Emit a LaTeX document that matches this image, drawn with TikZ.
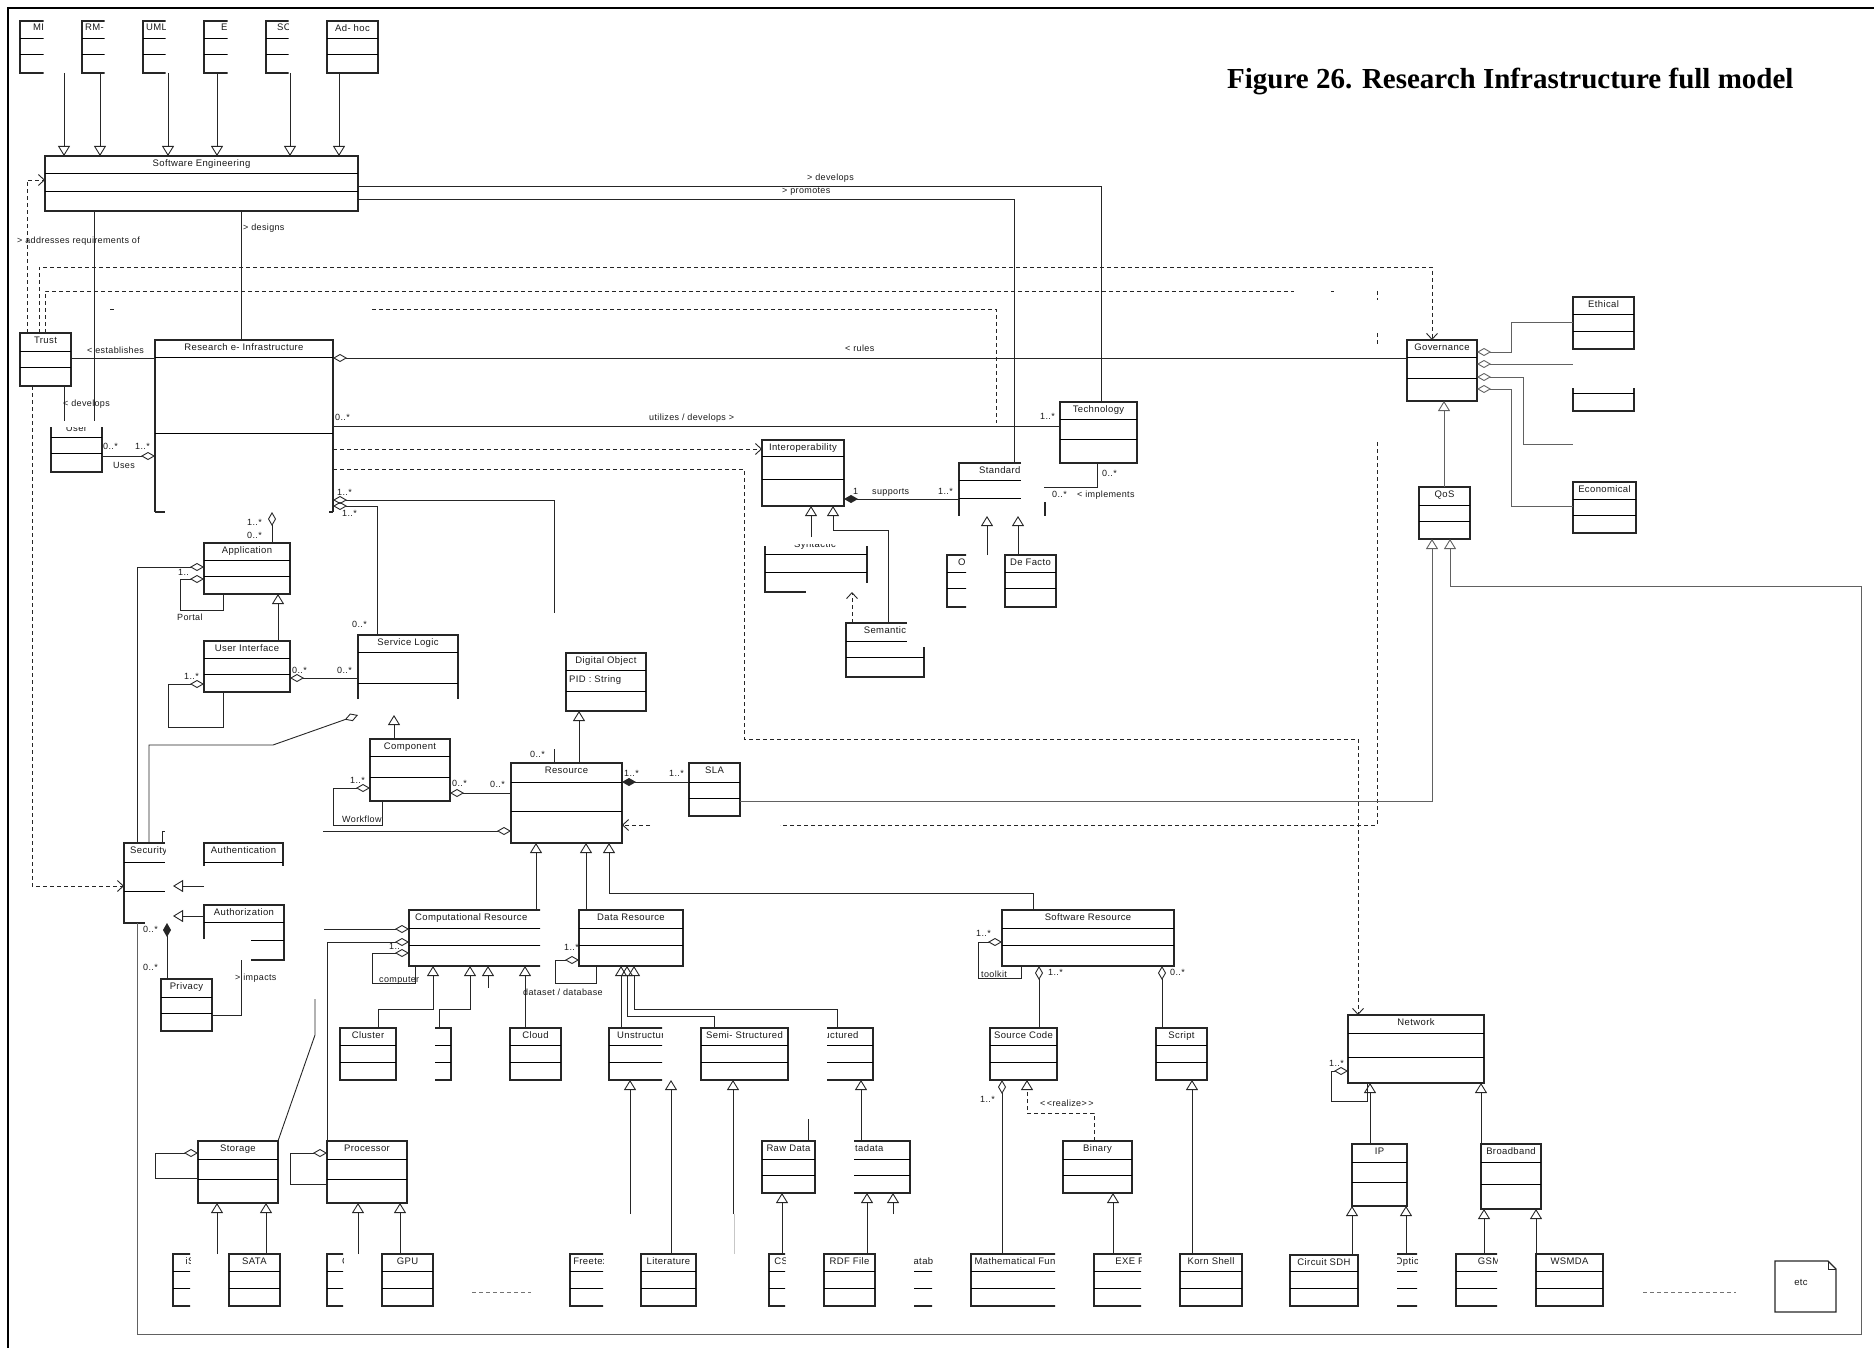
\documentclass[tikz,border=0pt]{standalone}
\usepackage{fontspec}
\newfontfamily\umlfont{Liberation Sans}[LetterSpace=4]
\newfontfamily\figfont{Liberation Serif}
\usetikzlibrary{arrows.meta}

\tikzset{
  ln/.style={draw=black!85, line width=0.9pt},
  gl/.style={draw=black!62},
  bl/.style={draw=black!85, line width=1.1pt},
  boxst/.style={draw=black!85, line width=1.1pt, inner sep=0pt, outer sep=0pt, rectangle},
  hidst/.style={inner sep=0pt, outer sep=0pt, rectangle},
  sepst/.style={draw=black, line width=0.9pt},
  ttl/.style={font=\umlfont\fontsize{9.5}{11}\selectfont, inner sep=0pt, anchor=base, text=black!90},
  lbl/.style={font=\umlfont\fontsize{9}{11}\selectfont, inner sep=0pt, anchor=base west, text=black!90},
  gen/.style={ln, -{Triangle[open, length=10pt, width=12pt]}},
  agg/.style={ln, {Diamond[open, length=14pt, width=8pt]}-},
  aggend/.style={ln, -{Diamond[open, length=14pt, width=8pt]}},
  comp/.style={ln, {Diamond[length=14pt, width=8pt]}-},
  dsh/.style={ln, dash pattern=on 4pt off 3pt},
  dep/.style={dsh, -{Straight Barb[length=6pt, width=11pt]}},
  real/.style={dsh, -{Triangle[open, length=10pt, width=12pt]}},
}

% class box: name, x1, y1, x2, y2, first separator, second separator
\newcommand{\ubox}[7]{%
  \pgfmathsetmacro{\ubw}{#4-#2}\pgfmathsetmacro{\ubh}{#5-#3}%
  \node[boxst, minimum width=\ubw pt, minimum height=\ubh pt] (#1) at ({(#2+#4)/2},{(#3+#5)/2}) {};
  \draw[sepst] (#2,#6) -- (#4,#6) (#2,#7) -- (#4,#7);
}
% invisible frame of a class whose outline is drawn piece by piece
\newcommand{\uhid}[5]{%
  \pgfmathsetmacro{\ubw}{#4-#2}\pgfmathsetmacro{\ubh}{#5-#3}%
  \node[hidst, minimum width=\ubw pt, minimum height=\ubh pt] (#1) at ({(#2+#4)/2},{(#3+#5)/2}) {};
}
\newcommand{\utitle}[2]{\node[ttl] (#1-t) at ([yshift=-10.5pt]#1.north) {#2};}
\newcommand{\lab}[4]{\node[lbl] (#1) at (#2,#3) {#4};}

\begin{document}
\begin{tikzpicture}[x=1pt, y=-1pt]
\useasboundingbox (0,0) rectangle (1874,1348);

% frame and caption
\draw[line width=2.2pt, black] (8,1348) -- (8,8) -- (1874,8);
\node[font=\figfont\bfseries\fontsize{29}{33}\selectfont, anchor=base west, inner sep=0pt] (fig) at (1227,89) {Figure 26. Research Infrastructure full model};

% ---------- methodology classes ----------
\begin{scope}\clip (17,18) rectangle (43.5,76);
  \ubox{mi}{20}{21}{71}{73}{38}{54}
  \node[ttl, anchor=base west] (mi-t) at (33,31) {MI};
\end{scope}
\begin{scope}\clip (79,18) rectangle (104.5,76);
  \ubox{rm}{82}{21}{133}{73}{38}{54}
  \node[ttl, anchor=base west] (rm-t) at (85,31) {RM-};
\end{scope}
\begin{scope}\clip (140,18) rectangle (165.5,76);
  \ubox{uml}{143}{21}{194}{73}{38}{54}
  \node[ttl, anchor=base west] (uml-t) at (146,31) {UML};
\end{scope}
\begin{scope}\clip (201,18) rectangle (227.5,76);
  \ubox{eb}{204}{21}{255}{73}{38}{54}
  \node[ttl, anchor=base west] (eb-t) at (221,31) {E};
\end{scope}
\begin{scope}\clip (263,18) rectangle (288.5,76);
  \ubox{sc}{266}{21}{317}{73}{38}{54}
  \node[ttl, anchor=base west] (sc-t) at (277,31) {SC};
\end{scope}
\ubox{adhoc}{327}{21}{378}{73}{38}{54} \utitle{adhoc}{Ad- hoc}

\ubox{se}{45}{156}{358}{211}{173}{191} \utitle{se}{Software Engineering}
\ubox{trust}{20}{333}{71}{386}{351}{367} \utitle{trust}{Trust}
\begin{scope}\clip (48,427) rectangle (105,475);
  \ubox{user}{51}{421}{102}{472}{437}{453} \utitle{user}{User}
\end{scope}

% Research e-Infrastructure
\uhid{ri}{155}{340}{333}{512}
\draw[bl] (155,512) -- (155,340) -- (333,340) -- (333,512);
\draw[bl] (155,512) -- (165,512) (329,512) -- (333,512);
\draw[sepst] (155,357) -- (333,357) (155,433) -- (333,433);
\utitle{ri}{Research e- Infrastructure}

\ubox{tech}{1060}{402}{1137}{463}{419}{439} \utitle{tech}{Technology}
\ubox{interop}{762}{440}{844}{506}{456}{479} \utitle{interop}{Interoperability}

% Standard
\uhid{std}{959}{463}{1045}{516}
\draw[bl] (1021,463) -- (959,463) -- (959,516);
\draw[bl] (1045,502) -- (1045,516);
\draw[sepst] (959,480) -- (1021,480) (959,498) -- (1021,498);
\node[ttl, anchor=base west] (std-t) at (979,473.5) {Standard};
\begin{scope}\clip (944,552) rectangle (966,610);
  \ubox{ostd}{947}{555}{998}{607}{572}{588}
  \node[ttl, anchor=base west] (ostd-t) at (958,565.5) {O};
\end{scope}
\ubox{defacto}{1005}{555}{1056}{607}{572}{588} \utitle{defacto}{De Facto}

% Syntactic / Semantic
\uhid{syn}{765}{537}{867}{592}
\draw[bl] (765,546) -- (765,592) -- (806,592);
\draw[bl] (867,546) -- (867,583);
\draw[sepst] (765,554) -- (867,554) (765,572) -- (867,572);
\begin{scope}\clip (760,544) rectangle (870,552);
  \node[ttl] (syn-t) at (815,547.5) {Syntactic};
\end{scope}
\uhid{sem}{846}{623}{924}{677}
\draw[bl] (907,623) -- (846,623) -- (846,677) -- (924,677) -- (924,647);
\draw[sepst] (846,641) -- (907,641) (846,657) -- (924,657);
\utitle{sem}{Semantic}

\ubox{dobj}{566}{653}{646}{711}{670}{691} \utitle{dobj}{Digital Object}
\node[ttl, anchor=base west] (pid) at (569,682) {PID : String};
\ubox{res}{511}{763}{622}{843}{782}{811} \utitle{res}{Resource}
\ubox{sla}{689}{763}{740}{816}{782}{798} \utitle{sla}{SLA}
\ubox{qos}{1419}{487}{1470}{539}{505}{521} \utitle{qos}{QoS}
\ubox{gov}{1407}{340}{1477}{401}{357}{378} \utitle{gov}{Governance}
\ubox{ethical}{1573}{297}{1634}{349}{314}{331} \utitle{ethical}{Ethical}
\uhid{legal}{1573}{388}{1634}{411}
\draw[bl] (1573,388) -- (1573,411) -- (1634,411) -- (1634,388);
\draw[sepst] (1573,393) -- (1634,393);
\ubox{econ}{1573}{482}{1636}{533}{499}{515} \utitle{econ}{Economical}

\ubox{app}{204}{543}{290}{594}{560}{576} \utitle{app}{Application}
\ubox{ui}{204}{641}{290}{692}{658}{674} \utitle{ui}{User Interface}
\uhid{sl}{358}{635}{458}{715}
\draw[bl] (358,699) -- (358,635) -- (458,635) -- (458,699);
\draw[sepst] (358,652) -- (458,652) (358,683) -- (458,683);
\utitle{sl}{Service Logic}
\ubox{cmp}{370}{739}{450}{801}{756}{777} \utitle{cmp}{Component}

% Security and its parts
\uhid{sec}{124}{843}{173}{923}
\draw[bl] (165,843) -- (124,843) -- (124,923) -- (145,923);
\draw[sepst] (124,862) -- (165,862) (124,891) -- (165,891);
\begin{scope}\clip (120,840) rectangle (165,860);
  \node[ttl, anchor=base west] (sec-t) at (130,853.5) {Security};
\end{scope}
\uhid{auth}{204}{843}{283}{900}
\draw[bl] (204,866) -- (204,843) -- (283,843) -- (283,866);
\draw[sepst] (204,862) -- (283,862);
\utitle{auth}{Authentication}
\uhid{authz}{204}{905}{284}{960}
\draw[bl] (204,939) -- (204,905) -- (284,905) -- (284,960) -- (251,960);
\draw[sepst] (204,922) -- (284,922) (251,940) -- (284,940);
\utitle{authz}{Authorization}
\ubox{priv}{161}{979}{212}{1031}{997}{1013} \utitle{priv}{Privacy}

% Computational resources
\begin{scope}\clip (405,905) rectangle (540,970);
  \ubox{cr}{409}{910}{570}{966}{928}{945}
  \node[ttl, anchor=base west] (cr-t) at (415,920.5) {Computational Resource};
\end{scope}
\ubox{cluster}{340}{1028}{396}{1080}{1045}{1062} \utitle{cluster}{Cluster}
\begin{scope}\clip (435,1024) rectangle (455,1084);
  \ubox{grid}{400}{1028}{451}{1080}{1045}{1062}
\end{scope}
\ubox{cloud}{510}{1028}{561}{1080}{1045}{1062} \utitle{cloud}{Cloud}
\ubox{stor}{198}{1141}{278}{1203}{1159}{1179} \utitle{stor}{Storage}
\ubox{proc}{327}{1141}{407}{1203}{1159}{1179} \utitle{proc}{Processor}

% Data resources
\ubox{dr}{579}{910}{683}{966}{928}{945} \utitle{dr}{Data Resource}
\begin{scope}\clip (605,1024) rectangle (662,1084);
  \ubox{unst}{609}{1028}{690}{1080}{1045}{1062}
  \node[ttl, anchor=base west] (unst-t) at (617,1038.5) {Unstructured};
\end{scope}
\ubox{semi}{701}{1028}{788}{1080}{1045}{1062} \utitle{semi}{Semi- Structured}
\begin{scope}\clip (827,1024) rectangle (877,1084);
  \ubox{struct}{790}{1028}{873}{1080}{1045}{1062}
  \node[ttl, anchor=base west] (struct-t) at (811,1038.5) {Structured};
\end{scope}
\ubox{raw}{762}{1141}{815}{1193}{1159}{1175} \utitle{raw}{Raw Data}
\begin{scope}\clip (854,1137) rectangle (914,1197);
  \ubox{meta}{820}{1141}{910}{1193}{1159}{1175}
  \node[ttl, anchor=base west] (meta-t) at (841,1151.5) {Metadata};
\end{scope}

% Software resources
\ubox{swr}{1002}{910}{1174}{966}{928}{945} \utitle{swr}{Software Resource}
\ubox{src}{990}{1028}{1057}{1080}{1045}{1062} \utitle{src}{Source Code}
\ubox{script}{1156}{1028}{1207}{1080}{1045}{1062} \utitle{script}{Script}
\ubox{bin}{1063}{1141}{1132}{1193}{1159}{1175} \utitle{bin}{Binary}

% Network
\ubox{net}{1348}{1015}{1484}{1083}{1033}{1057} \utitle{net}{Network}
\ubox{ip}{1352}{1144}{1407}{1206}{1162}{1182} \utitle{ip}{IP}
\ubox{bb}{1481}{1144}{1541}{1209}{1162}{1184} \utitle{bb}{Broadband}

% ---------- leaf classes ----------
\begin{scope}\clip (170,1250) rectangle (190,1310);
  \ubox{iscsi}{173}{1254}{224}{1306}{1271}{1288} \utitle{iscsi}{iSCSI}
\end{scope}
\ubox{sata}{229}{1254}{280}{1306}{1271}{1288} \utitle{sata}{SATA}
\begin{scope}\clip (324,1250) rectangle (343,1310);
  \ubox{cpu}{327}{1254}{378}{1306}{1271}{1288} \utitle{cpu}{CPU}
\end{scope}
\ubox{gpu}{382}{1254}{433}{1306}{1271}{1288} \utitle{gpu}{GPU}
\begin{scope}\clip (567,1250) rectangle (603,1310);
  \ubox{ftext}{570}{1254}{614}{1306}{1271}{1288} \utitle{ftext}{Freetext}
\end{scope}
\ubox{lit}{641}{1254}{696}{1306}{1271}{1288} \utitle{lit}{Literature}
\begin{scope}\clip (766,1250) rectangle (785,1310);
  \ubox{csv}{769}{1254}{800}{1306}{1271}{1288} \utitle{csv}{CSV}
\end{scope}
\ubox{rdf}{824}{1254}{875}{1306}{1271}{1288} \utitle{rdf}{RDF File}
\begin{scope}\clip (914,1257) rectangle (932,1310);
  \ubox{db}{903}{1254}{953}{1306}{1271}{1288} \utitle{db}{Database}
\end{scope}
\begin{scope}\clip (968,1250) rectangle (1055,1310);
  \ubox{mathfn}{971}{1254}{1081}{1306}{1271}{1288} \utitle{mathfn}{Mathematical Function}
\end{scope}
\begin{scope}\clip (1091,1250) rectangle (1141,1310);
  \ubox{exe}{1094}{1254}{1176}{1306}{1271}{1288} \utitle{exe}{EXE File}
\end{scope}
\ubox{korn}{1180}{1254}{1242}{1306}{1271}{1288} \utitle{korn}{Korn Shell}
\ubox{sdh}{1290}{1255}{1358}{1306}{1271}{1288} \utitle{sdh}{Circuit SDH}
\begin{scope}\clip (1397,1250) rectangle (1417,1310);
  \ubox{optic}{1380}{1254}{1440}{1306}{1271}{1288}
  \node[ttl, anchor=base west] (optic-t) at (1395,1264.5) {Optical};
\end{scope}
\begin{scope}\clip (1453,1250) rectangle (1497,1310);
  \ubox{gsm}{1456}{1254}{1522}{1306}{1271}{1288} \utitle{gsm}{GSM}
\end{scope}
\ubox{wsmda}{1536}{1254}{1603}{1306}{1271}{1288} \utitle{wsmda}{WSMDA}

% note
\node[hidst, minimum width=61pt, minimum height=51pt] (etc) at (1805.5,1286.5) {};
\draw[bl] (etc.north west) -- ([xshift=-8pt]etc.north east) -- ([yshift=-8pt]etc.north east) -- (etc.south east) -- (etc.south west) -- cycle;
\draw[ln] ([xshift=-8pt]etc.north east) |- ([yshift=-8pt]etc.north east);
\node[ttl] (etc-t) at (1801,1285) {etc};

% ---------- connectors ----------
% methodologies specialise Software Engineering
\draw[gen] (mi.south -| 64,0) -- (se.north -| 64,0);
\draw[gen] (rm.south -| 100,0) -- (se.north -| 100,0);
\draw[gen] (uml.south -| 168,0) -- (se.north -| 168,0);
\draw[gen] (eb.south -| 217,0) -- (se.north -| 217,0);
\draw[gen] (sc.south -| 290,0) -- (se.north -| 290,0);
\draw[gen] (adhoc.south -| 339,0) -- (se.north -| 339,0);

% Software Engineering
\draw[ln] (se.east |- 0,186) -| (tech.north -| 1101,0);
\lab{l-dev}{807}{181}{> develops}
\draw[ln] (se.east |- 0,199) -| (std.north -| 1014,0);
\lab{l-prom}{782}{193.5}{> promotes}
\draw[dep] (trust.north -| 27,0) |- (se.west |- 0,180);
\lab{l-addr}{17}{244}{> addresses requirements of}
\draw[ln] (se.south -| 94,0) -- (user.north -| 94,0);
\draw[ln] (se.south -| 241,0) -- (ri.north -| 241,0);
\lab{l-des}{243}{231}{> designs}

% Trust
\draw[ln] (trust.east |- 0,358) -- (ri.west |- 0,358);
\lab{l-est}{87}{353}{< establishes}
\draw[ln] (trust.south -| 64,0) -- (user.north -| 64,0);
\lab{l-tdev}{63}{406}{< develops}
\draw[dep] (trust.north -| 39,0) |- (1432,267) -- (gov.north -| 1432,0);
\draw[dsh] (trust.north -| 45,0) |- (1294,291);
\draw[dsh] (1331,291) -- (1334,291) (1377,291) -- (1377,300) (1377,333) -- (1377,345);
\draw[dsh] (1377,442) |- (780,825);
\draw[dep] (650,825) -- (res.east |- 0,825);
\draw[dsh] (110,309) -- (115,309);
\draw[dsh] (372,309) -| (996,423);
\draw[dep] (trust.south -| 32,0) |- (sec.west |- 0,886);

% User
\draw[aggend] (user.east |- 0,456) -- (ri.west |- 0,456);
\lab{l-u1}{103}{449.5}{0..*}
\lab{l-u2}{135}{449.5}{1..*}
\lab{l-uses}{113}{468}{Uses}

% Research e-Infrastructure
\draw[agg] (ri.east |- 0,358) -- (gov.west |- 0,358);
\lab{l-rules}{845}{351}{< rules}
\draw[ln] (ri.east |- 0,426) -- (tech.west |- 0,426);
\lab{l-ut1}{335}{420}{0..*}
\lab{l-ut2}{1040}{419}{1..*}
\lab{l-util}{649}{420}{utilizes /  develops >}
\draw[dep] (ri.east |- 0,449) -- (interop.west |- 0,449);
\draw[dep] (ri.east |- 0,469) -| (744,739) -| (net.north -| 1358,0);
\draw[agg] (ri.east |- 0,500) -| (554,613);
\draw[ln] (554,749) -- (res.north -| 554,0);
\draw[agg] (ri.east |- 0,506) -| (sl.north -| 377,0);
\lab{l-r1}{337}{495}{1..*}
\lab{l-r2}{342}{516}{1..*}
\lab{l-r3}{352}{627}{0..*}
\lab{l-r4}{530}{757}{0..*}
\draw[agg] (ri.south -| 272,0) -- (app.north -| 272,0);
\lab{l-a1}{247}{525}{1..*}
\lab{l-a2}{247}{538}{0..*}

% Technology, Standard, Interoperability
\draw[ln] (tech.south -| 1097,0) |- (1044,487);
\lab{l-t1}{1102}{476}{0..*}
\lab{l-t2}{1052}{497.5}{0..*}
\lab{l-impl}{1077}{497.5}{< implements}
\draw[comp] (interop.east |- 0,499) -- (std.west |- 0,499);
\lab{l-s1}{853}{494}{1}
\lab{l-sup}{872}{494}{supports}
\lab{l-s2}{938}{494}{1..*}
\draw[gen] (ostd.north -| 987,0) -- (std.south -| 987,0);
\draw[gen] (defacto.north -| 1018,0) -- (std.south -| 1018,0);
\draw[gen] (syn.north -| 811,0) -- (interop.south -| 811,0);
\draw[gen] (sem.north -| 888,0) |- (833,530) -- (interop.south -| 833,0);
\draw[dep] (sem.north -| 852,0) -- (syn.south -| 852,0);

% Resource
\draw[gen] (res.north -| 579,0) -- (dobj.south -| 579,0);
\draw[comp] (res.east |- 0,782) -- (sla.west |- 0,782);
\lab{l-sla1}{624}{776}{1..*}
\lab{l-sla2}{669}{776}{1..*}
\draw[gen, gl] (sla.east |- 0,801) -| (qos.south -| 1432,0);
\draw[gen, gl] (qos.north -| 1444,0) -- (gov.south -| 1444,0);
\draw[gen, gl] (sec.south -| 137,0) -- (137,1334) -| (1861,586) -| (qos.south -| 1450,0);
\draw[aggend] (323,831) -- (res.west |- 0,831);
\draw[ln] (sec.north -| 162,0) |- (165,831);
\draw[agg] (cmp.east |- 0,793) -- (res.west |- 0,793);
\lab{l-c1}{452}{786}{0..*}
\lab{l-c2}{490}{787}{0..*}
\draw[gen] (cr.north -| 536,0) -- (res.south -| 536,0);
\draw[gen] (dr.north -| 586,0) -- (res.south -| 586,0);
\draw[gen] (swr.north -| 1033,0) |- (609,893) -- (res.south -| 609,0);

% Governance parts
\draw[agg, gl] (gov.east |- 0,352) -| (1511,322) -- (ethical.west |- 0,322);
\draw[agg, gl] (gov.east |- 0,364) -- (legal.west |- 0,364);
\draw[agg, gl] (gov.east |- 0,377) -| (1523,444) -- (1573,444);
\draw[agg, gl] (gov.east |- 0,389) -| (1511,506) -- (econ.west |- 0,506);

% Application, User Interface, Service Logic, Component
\draw[agg] (app.west |- 0,567) -| (sec.north -| 137,0);
\lab{l-ap1}{178}{575}{1..}
\draw[agg] (app.west |- 0,579) -| (180,610) -| (app.south -| 223,0);
\lab{l-portal}{177}{620}{Portal}
\draw[gen] (ui.north -| 278,0) -- (app.south -| 278,0);
\draw[agg] (ui.west |- 0,684) -| (168,727) -| (ui.south -| 223,0);
\lab{l-ui1}{184}{679}{1..*}
\draw[agg] (ui.east |- 0,678) -- (sl.west |- 0,678);
\lab{l-ui2}{292}{673}{0..*}
\lab{l-ui3}{337}{673}{0..*}
\draw[aggend] (sec.north -| 149,0) |- (273,745) -- (sl.south west);
\draw[gen] (cmp.north -| 394,0) -- (sl.south -| 394,0);
\draw[agg] (cmp.west |- 0,788) -| (333,825) -| (cmp.south -| 382,0);
\lab{l-wf}{342}{822}{Workflow}
\lab{l-wf1}{350}{783}{1..*}

% Security
\draw[comp] (sec.south -| 167,0) -- (priv.north -| 167,0);
\lab{l-p1}{143}{932}{0..*}
\lab{l-p2}{143}{970}{0..*}
\draw[gen] (auth.west |- 0,886) -- (sec.east |- 0,886);
\draw[gen] (authz.west |- 0,916) -- (sec.east |- 0,916);
\draw[ln] (authz.south -| 241,0) |- (priv.east |- 0,1015);
\lab{l-imp}{235}{980}{> impacts}

% Computational Resource
\draw[agg] (cr.west |- 0,953) -| (372,983) -| (cr.south -| 415,0);
\lab{l-comp}{379}{982}{computer}
\draw[aggend] (proc.north west) |- (cr.west |- 0,942);
\lab{l-pr1}{389}{949}{1..}
\draw[aggend] (324,929) -- (cr.west |- 0,929);
\draw[ln] (stor.north east) -- (315,1035) -- (315,999);
\draw[gen] (cluster.north -| 378,0) |- (433,1009) -- (cr.south -| 433,0);
\draw[gen] (grid.north -| 439,0) |- (470,1009) -- (cr.south -| 470,0);
\draw[gen] (488,988) -- (cr.south -| 488,0);
\draw[gen] (cloud.north -| 525,0) -- (cr.south -| 525,0);
\draw[agg] (stor.west |- 0,1153) -| (155,1178) -- (stor.west |- 0,1178);
\draw[agg] (proc.west |- 0,1153) -| (290,1184) -- (proc.west |- 0,1184);
\draw[gen] (iscsi.north -| 217,0) -- (stor.south -| 217,0);
\draw[gen] (sata.north -| 266,0) -- (stor.south -| 266,0);
\draw[gen] (cpu.north -| 358,0) -- (proc.south -| 358,0);
\draw[gen] (gpu.north -| 400,0) -- (proc.south -| 400,0);

% Data Resource
\draw[agg] (dr.west |- 0,960) -| (555,983) -| (dr.south -| 596,0);
\lab{l-dr1}{564}{950}{1..*}
\lab{l-ds}{523}{995}{dataset /  database}
\draw[gen] (unst.north -| 621,0) -- (dr.south -| 621,0);
\draw[gen] (semi.north -| 714,0) |- (627,1016) -- (dr.south -| 627,0);
\draw[gen] (struct.north -| 837,0) |- (634,1009) -- (dr.south -| 634,0);
\draw[gen] (630,1214) -- (unst.south -| 630,0);
\draw[gen] (lit.north -| 671,0) -- (unst.south -| 671,0);
\draw[gen] (733,1214) -- (semi.south -| 733,0);
\draw[ln, draw=black!22] (734,1214) -- (734,1254);
\draw[gen] (meta.north -| 861,0) -- (struct.south -| 861,0);
\draw[ln] (raw.north -| 808,0) -- (808,1119);
\draw[gen] (csv.north -| 782,0) -- (raw.south -| 782,0);
\draw[gen] (rdf.north -| 867,0) -- (meta.south -| 867,0);
\draw[gen] (893,1214) -- (meta.south -| 893,0);
\draw[dsh, draw=black!55] (472,1292) -- (531,1292);

% Software Resource
\draw[agg] (swr.west |- 0,942) -| (978,978) -| (swr.south -| 1021,0);
\lab{l-sw1}{976}{936}{1..*}
\lab{l-tk}{981}{977}{toolkit}
\draw[agg] (swr.south -| 1039,0) -- (src.north -| 1039,0);
\draw[agg] (swr.south -| 1162,0) -- (script.north -| 1162,0);
\lab{l-sw2}{1048}{975}{1..*}
\lab{l-sw3}{1170}{975}{0..*}
\draw[aggend] (mathfn.north -| 1002,0) -- (src.south -| 1002,0);
\lab{l-mf}{980}{1102}{1..*}
\draw[real] (bin.north -| 1094,0) |- (1027,1113) -- (src.south -| 1027,0);
\lab{l-real}{1040}{1106}{<\kern1.5pt<realize>\kern1.5pt>}
\draw[gen] (exe.north -| 1113,0) -- (bin.south -| 1113,0);
\draw[gen] (korn.north -| 1192,0) -- (script.south -| 1192,0);

% Network
\draw[agg] (net.west |- 0,1071) -| (1331,1101) -| (net.south -| 1367,0);
\lab{l-n1}{1329}{1066}{1..*}
\draw[gen] (ip.north -| 1370,0) -- (net.south -| 1370,0);
\draw[gen] (bb.north -| 1481,0) -- (net.south -| 1481,0);
\draw[gen] (sdh.north -| 1352,0) -- (ip.south -| 1352,0);
\draw[gen] (optic.north -| 1406,0) -- (ip.south -| 1406,0);
\draw[gen] (gsm.north -| 1484,0) -- (bb.south -| 1484,0);
\draw[gen] (wsmda.north -| 1536,0) -- (bb.south -| 1536,0);
\draw[dsh, draw=black!55] (1643,1292) -- (1736,1292);

\end{tikzpicture}
\end{document}
